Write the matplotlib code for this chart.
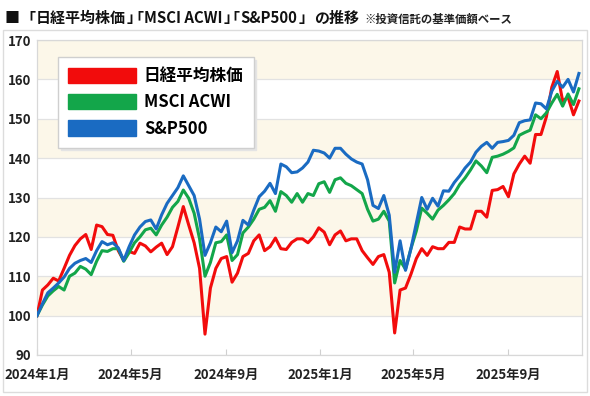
import matplotlib
matplotlib.use("Agg")
import matplotlib.pyplot as plt
from matplotlib.patches import Patch, Rectangle
import pandas as pd

plt.rcParams['font.family'] = ['Noto Sans CJK JP', 'DejaVu Sans']

# weekly data, base = 100 at 2024-01-01
dates = pd.date_range("2024-01-01", periods=101, freq="7D")

nikkei = [100, 106.5, 107.8, 109.5, 108.8, 112, 115.3, 117.8, 119.5, 120.6,
          116.8, 123, 122.6, 120.6, 120.4, 116.5, 114, 116.3, 115.8, 118.4,
          117.7, 116.2, 117.4, 118.4, 115.5, 117.5, 122.5, 127.7, 123, 118.5,
          112, 95.3, 107, 112, 114.5, 115, 108.5, 110.8, 115, 115.8,
          119, 120.5, 116.5, 117.5, 119.7, 117, 116.8, 118.6, 119.5, 119.5,
          118.5, 120, 122.3, 121.2, 118, 120.5, 121.5, 119, 119.5, 119.5,
          116.5, 114.7, 113, 115, 115.5, 111, 95.6, 106.5, 107, 110.5,
          114.5, 117, 115.3, 117.5, 117, 117, 118.6, 118.6, 122.5, 122,
          122, 126.5, 126.5, 125, 131.8, 132, 132.8, 130.2, 136, 138.5,
          140.5, 138.7, 146, 146, 150.5, 158, 162, 154.5, 155.5, 151,
          154.5]

acwi = [100, 102.7, 105, 106.3, 107.4, 106.5, 110, 110.8, 112.5, 111.8,
        110.4, 113.8, 116.5, 116.3, 117, 117, 113.8, 116, 118.5, 120,
        121.8, 122.2, 120.5, 123, 125, 127.5, 129, 131.9, 129.8, 126,
        119.5, 110, 113.5, 118.5, 118.8, 120.5, 114, 115.5, 121, 122.5,
        124.5, 127, 127.5, 129.2, 126.5, 131.5, 130.5, 128.8, 131, 128.8,
        131, 130.5, 133.5, 134, 131.3, 134.5, 135, 133.6, 133, 132,
        131, 127, 124, 124.5, 126.5, 124, 108.3, 114, 111.8, 117,
        121.5, 127.3, 126, 124.5, 126.8, 128, 129.4, 131, 133.3, 135,
        137, 139.3, 138, 136.3, 140.2, 140.5, 141, 141.7, 142.6, 145.8,
        146.5, 147.1, 151, 150, 151.5, 154, 156.2, 153.2, 156.3, 153.6,
        157.6]

sp500 = [100, 103, 105.8, 107, 108.3, 109.8, 112, 113.3, 114, 114.5,
         113.5, 116.5, 118.8, 118, 118.5, 117.2, 114, 117.5, 120.5, 122.5,
         123.9, 124.3, 122, 125.6, 128.5, 130.5, 132.5, 135.5, 133, 130.5,
         124.5, 115.3, 118.5, 122.5, 121.3, 124, 116, 119, 124.2, 123,
         126.8, 130.2, 131.6, 133.6, 131, 138.5, 137.8, 136.3, 136.5, 137.5,
         139, 142, 141.8, 141.3, 140, 142.5, 142.5, 141, 139.8, 139,
         138.5, 134.5, 128, 127.2, 130.5, 125.5, 111, 119, 111.5, 117,
         123.5, 130, 127, 129.8, 127.8, 131.7, 131.6, 133.8, 135.5, 137.5,
         139, 141.5, 143, 144, 142.5, 144, 144.2, 144.5, 145.8, 149,
         149.5, 149.7, 154, 153.8, 152.5, 157, 159.5, 158, 160, 156.8,
         161.5]

series_names = ["日経平均株価", "MSCI ACWI", "S&P500"]
colors = ["#f20c0c", "#13a64a", "#1a6bc2"]

tick_dates = pd.to_datetime(["2024-01-01", "2024-05-01", "2024-09-01",
                             "2025-01-01", "2025-05-01", "2025-09-01"])
tick_labels = ["2024年1月", "2024年5月", "2024年9月",
               "2025年1月", "2025年5月", "2025年9月"]
yticks = [90, 100, 110, 120, 130, 140, 150, 160, 170]

title_pieces = ["■", "「", "日経平均株価", "」", "「", "MSCI ACWI", "」", "「",
                "S&P500", "」", "の推移"]
subtitle = "※投資信託の基準価額ベース"

W, H = 590, 396
fig = plt.figure(figsize=(W / 100, H / 100), dpi=100)
fig.patch.set_facecolor("white")

# outer frame
fig.patches.append(Rectangle((3 / W, 1 - 392 / H), 584 / W, 362 / H,
                             transform=fig.transFigure, fill=False,
                             edgecolor="#dcdcdc", lw=1.0))

ax = fig.add_axes([37 / W, 1 - 355 / H, 545 / W, 315 / H])
ax.set_facecolor("white")

for lo in [100, 120, 140, 160]:
    ax.axhspan(lo, lo + 10, color="#fcf7e9", lw=0, zorder=0)
for y in yticks:
    ax.axhline(y, color="#e2e2e2", lw=0.9, zorder=1)

for vals, c in zip([nikkei, acwi, sp500], colors):
    ax.plot(dates, vals, color=c, lw=2.2, solid_joinstyle="round", zorder=3)

ax.set_ylim(90, 170)
ax.set_xlim(pd.Timestamp("2024-01-01"), pd.Timestamp("2025-12-05"))
ax.set_yticks(yticks)
ax.set_yticklabels([str(v) for v in yticks], fontsize=9.5, fontweight="bold",
                   color="#222222")
ax.set_xticks(tick_dates)
ax.set_xticklabels(tick_labels, fontsize=9.5, fontweight="bold", color="#222222")
ax.tick_params(axis="y", length=0, pad=4)
ax.tick_params(axis="x", direction="in", length=4, color="#d0d0d0", pad=9)
for s in ["left", "right", "top", "bottom"]:
    ax.spines[s].set_color("#d8d8d8")
    ax.spines[s].set_linewidth(0.9)

handles = [Patch(facecolor=c, edgecolor=c) for c in colors]
leg = fig.legend(handles, series_names, loc="upper left",
                 bbox_to_anchor=(58 / W, 1 - 57 / H), borderaxespad=0,
                 prop={"size": 12, "weight": "bold"}, handlelength=4.1,
                 handleheight=1.05, handletextpad=0.45, labelspacing=0.5,
                 borderpad=0.6, fancybox=False, frameon=True,
                 edgecolor="#cfcfcf", facecolor="white", framealpha=1,
                 shadow={"color": "#e4e4e4", "alpha": 1})
leg.get_frame().set_linewidth(1.0)

# title: pieces laid out tightly (proportional brackets)
renderer = fig.canvas.get_renderer()
title_fs = 10.8
half_em = title_fs * 100 / 72 / 2
xpix = 5.0
ypix = 18.0
n = len(title_pieces)
for i, piece in enumerate(title_pieces):
    prev = title_pieces[i - 1] if i > 0 else ""
    nxt = title_pieces[i + 1] if i + 1 < n else ""
    lead = half_em if (piece == "「" and prev != "■") else 0.0
    trail = half_em if (piece == "」" and nxt == "「") else 0.0
    t = fig.text((xpix - lead) / W, 1 - ypix / H, piece, fontsize=title_fs,
                 fontweight="bold", va="center", ha="left", color="#111111")
    bb = t.get_window_extent(renderer)
    gap = 0.0 if piece == "■" else 1.0
    xpix = bb.x1 - trail + gap
fig.text((xpix + 4) / W, 1 - 19 / H, subtitle,
         fontsize=8.2, fontweight="bold", va="center", ha="left", color="#222222")

fig.savefig("out.png", dpi=100, facecolor="white")
